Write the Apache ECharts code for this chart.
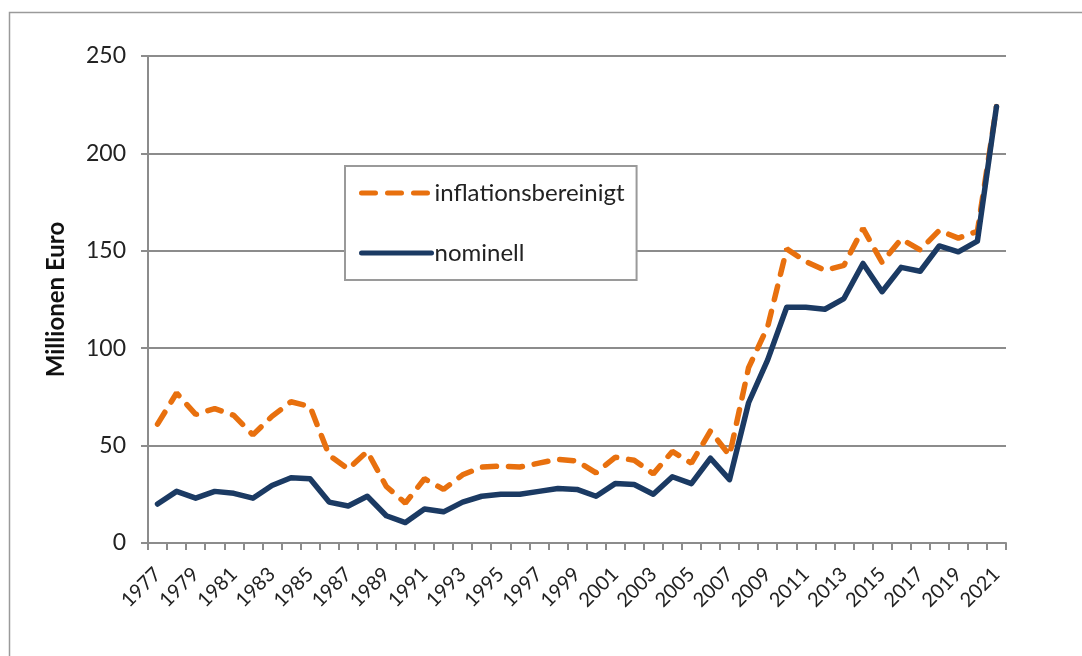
<!DOCTYPE html>
<html lang="de">
<head>
    <meta charset="UTF-8">
    <title>Millionen Euro</title>
    <style>
        html, body { margin: 0; padding: 0; background: #fff; }
        #main { width: 1082px; height: 656px; }
    </style>
</head>
<body>
    <div id="main"></div>
    <script src="https://cdn.jsdelivr.net/npm/echarts@6/dist/echarts.min.js"></script>
    <script>
        // Jahre 1977 - 2021
        var jahre = ['1977','1978','1979','1980','1981','1982','1983','1984','1985','1986',
            '1987','1988','1989','1990','1991','1992','1993','1994','1995','1996',
            '1997','1998','1999','2000','2001','2002','2003','2004','2005','2006',
            '2007','2008','2009','2010','2011','2012','2013','2014','2015','2016',
            '2017','2018','2019','2020','2021'];

        var inflationsbereinigt = [61, 77, 66, 69, 65.5, 55.5, 65, 72.5, 70, 45,
            38, 47, 29, 20.5, 33, 27.5, 35, 39, 39.5, 39,
            41, 43, 42, 36, 44, 42.5, 35.5, 47, 41, 57.5,
            45, 90, 111, 151, 144.5, 140, 142.5, 161.5, 144, 156,
            150.5, 160.5, 156.5, 160, 224];

        var nominell = [20, 26.5, 23, 26.5, 25.5, 23, 29.5, 33.5, 33, 21,
            19, 24, 14, 10.5, 17.5, 16, 21, 24, 25, 25,
            26.5, 28, 27.5, 24, 30.5, 30, 25, 34, 30.5, 43.5,
            32.5, 72, 94, 121, 121, 120, 125.5, 143.5, 129, 141.5,
            139.5, 152.5, 149.5, 155, 224];

        var yTicks = [0, 50, 100, 150, 200, 250];

        var grau = '#8c8c8c';
        var schrift = 'Lato, "Open Sans", sans-serif';

        var chart = echarts.init(document.getElementById('main'));
        chart.setOption({
            animation: false,
            textStyle: { fontFamily: schrift },
            graphic: [{
                type: 'rect',
                shape: { x: 9.5, y: 12.5, width: 1200, height: 800 },
                style: { fill: 'none', stroke: '#9a9a9a', lineWidth: 1.5 },
                silent: true,
                z: -1
            }],
            grid: { left: 148, right: 76, top: 56, bottom: 113 },
            legend: {
                orient: 'vertical',
                left: 345,
                top: 166,
                padding: [15, 12, 15, 14],
                itemGap: 36,
                itemWidth: 70,
                itemHeight: 14,
                backgroundColor: '#fff',
                borderColor: '#9a9a9a',
                borderWidth: 2,
                itemStyle: { opacity: 0 },
                lineStyle: { width: 5 },
                textStyle: { fontSize: 24, color: '#222', fontFamily: schrift, padding: [0, 0, 0, -2] },
                data: ['inflationsbereinigt', 'nominell']
            },
            xAxis: {
                type: 'category',
                data: jahre,
                boundaryGap: true,
                axisLine: { lineStyle: { color: grau, width: 2 } },
                axisTick: { show: true, length: 7, lineStyle: { color: grau, width: 2 }, interval: 0 },
                axisLabel: {
                    interval: 1,
                    rotate: 45,
                    fontSize: 20,
                    color: '#222',
                    margin: 28
                }
            },
            yAxis: {
                type: 'value',
                min: yTicks[0],
                max: yTicks[yTicks.length - 1],
                interval: 50,
                name: 'Millionen Euro',
                nameLocation: 'middle',
                nameGap: 80,
                nameTextStyle: { fontSize: 24, fontWeight: 'bold', color: '#111' },
                axisLine: { show: true, lineStyle: { color: grau, width: 2 } },
                axisTick: { show: true, length: 7, lineStyle: { color: grau, width: 2 } },
                axisLabel: { fontSize: 23, color: '#222', margin: 22 },
                splitLine: { lineStyle: { color: grau, width: 2 } }
            },
            series: [{
                name: 'inflationsbereinigt',
                type: 'line',
                data: inflationsbereinigt,
                symbol: 'none',
                color: '#E8700E',
                lineStyle: { color: '#E8700E', width: 5.5, type: [14, 12], cap: 'round' },
                z: 2
            }, {
                name: 'nominell',
                type: 'line',
                data: nominell,
                symbol: 'none',
                color: '#1B3A63',
                lineStyle: { color: '#1B3A63', width: 5.5, cap: 'round', join: 'round' },
                z: 3
            }]
        });
    </script>
</body>
</html>
